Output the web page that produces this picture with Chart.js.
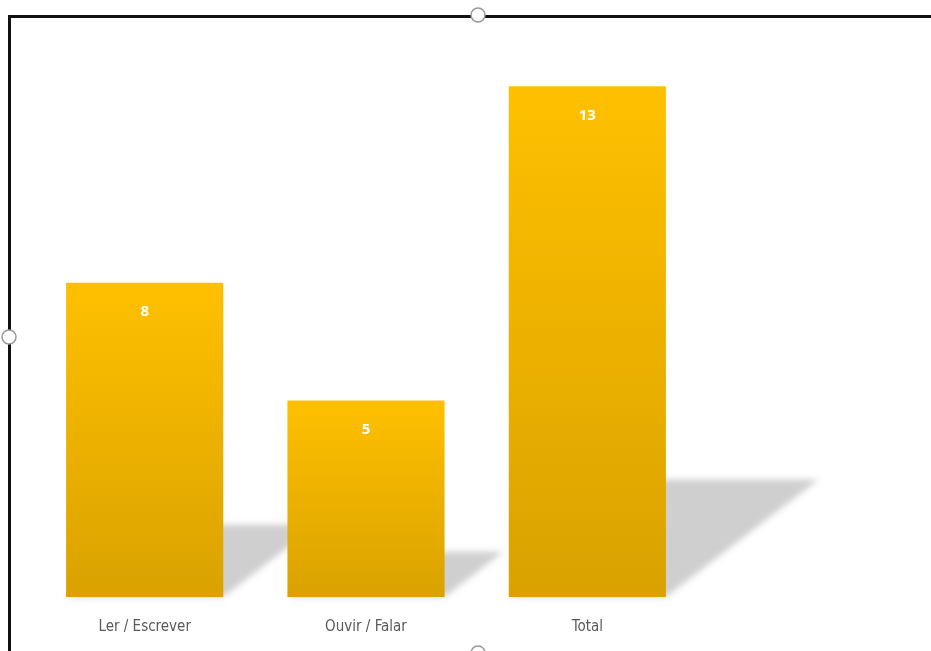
<!DOCTYPE html>
<html>
<head>
<meta charset="utf-8">
<script src="https://cdn.jsdelivr.net/npm/chart.js@4.4.1/dist/chart.umd.min.js"></script>
<style>
  body { margin: 0; background: #fff; }
  #wrap { width: 931px; height: 651px; position: relative; }
</style>
</head>
<body>
<div id="wrap"><canvas id="myChart"></canvas></div>
<script>
const categories = ['Ler / Escrever', 'Ouvir / Falar', 'Total'];
const values = [8, 5, 13];

const ctx = document.getElementById('myChart');

// gradient per bar, light on top, darker at the bottom (like the excel fill)
function barGradient(context)
{
  const chart = context.chart;
  const yScale = chart.scales.y;
  if (!yScale || context.type !== 'data') return '#FFC000';
  const top = yScale.getPixelForValue(context.raw);
  const bottom = yScale.getPixelForValue(0);
  if (!isFinite(top) || !isFinite(bottom) || top === bottom) return '#FFC000';
  const g = chart.ctx.createLinearGradient(0, top, 0, bottom);
  g.addColorStop(0, '#FFC000');
  g.addColorStop(1, '#D9A200');
  return g;
}

// the slanted floor shadow behind each bar
const shadowPlugin = {
  id: 'shadows',
  beforeDatasetsDraw(chart)
  {
    const c = chart.ctx;
    const bars = chart.getDatasetMeta(0).data;
    c.save();
    c.filter = 'blur(3px)';
    c.fillStyle = 'rgba(0,0,0,0.19)';
    bars.forEach(bar => {
      const w = bar.width;
      const x0 = bar.x - w / 2;
      const x1 = bar.x + w / 2;
      const h = (bar.base - bar.y) * 0.23;
      const shift = h * 1.3;
      c.beginPath();
      c.moveTo(x0, bar.base);
      c.lineTo(x1, bar.base);
      c.lineTo(x1 + shift, bar.base - h);
      c.lineTo(x0 + shift, bar.base - h);
      c.closePath();
      c.fill();
    });
    c.restore();
  }
};

// white value labels inside the bar tops
const labelPlugin = {
  id: 'valueLabels',
  afterDatasetsDraw(chart)
  {
    const c = chart.ctx;
    const bars = chart.getDatasetMeta(0).data;
    c.save();
    c.fillStyle = '#ffffff';
    c.font = 'bold 15px "Open Sans", sans-serif';
    c.textAlign = 'center';
    c.textBaseline = 'middle';
    bars.forEach((bar, i) => {
      c.fillText(String(values[i]), bar.x, bar.y + 29);
    });
    c.restore();
  }
};

// frame of the selected chart object with its handles
const framePlugin = {
  id: 'frame',
  afterDraw(chart)
  {
    const c = chart.ctx;
    c.save();
    c.strokeStyle = '#111';
    c.lineWidth = 3;
    c.beginPath();
    c.moveTo(931, 16.5);
    c.lineTo(9.5, 16.5);
    c.lineTo(9.5, 651);
    c.stroke();
    const handles = [[478, 15], [9, 337], [478, 653]];
    handles.forEach(p => {
      c.beginPath();
      c.arc(p[0], p[1], 7, 0, Math.PI * 2);
      c.fillStyle = '#fff';
      c.fill();
      c.lineWidth = 1.5;
      c.strokeStyle = '#999';
      c.stroke();
    });
    c.restore();
  }
};

const myChart = new Chart(ctx, {
  type: 'bar',
  data: {
    labels: categories,
    datasets: [{
      label: 'Valores',
      data: values,
      backgroundColor: barGradient,
      borderWidth: 0,
      barPercentage: 0.71,
      categoryPercentage: 1.0
    }]
  },
  options: {
    responsive: true,
    maintainAspectRatio: false,
    animation: false,
    layout: {
      padding: { left: 34, right: 233, top: 47, bottom: 0 }
    },
    plugins: {
      legend: { display: false },
      tooltip: { enabled: false }
    },
    scales: {
      x: {
        grid: { display: false },
        border: { display: false },
        afterFit(scale) { scale.height = 54; },
        ticks: {
          color: '#595959',
          padding: 13,
          font: { family: '"Liberation Sans Narrow", "DejaVu Sans Condensed", sans-serif', size: 15 }
        }
      },
      y: {
        display: false,
        min: 0,
        max: 14
      }
    }
  },
  plugins: [shadowPlugin, labelPlugin, framePlugin]
});
</script>
</body>
</html>
